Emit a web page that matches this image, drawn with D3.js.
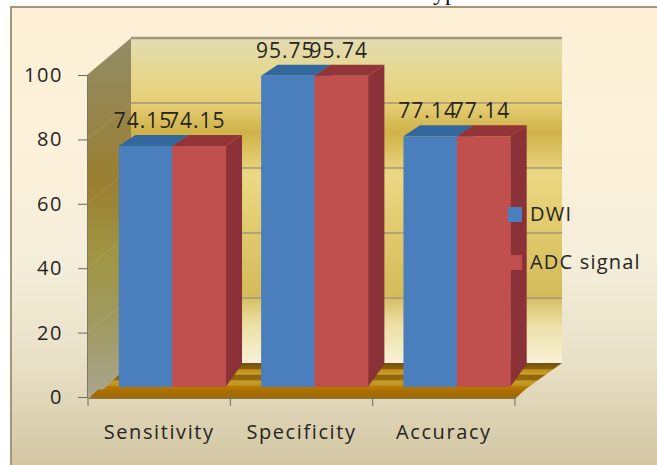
<!DOCTYPE html>
<html>
<head>
<meta charset="utf-8">
<style>
html,body{margin:0;padding:0;background:#fff;overflow:hidden}
svg{display:block}
text{font-family:"Open Sans",sans-serif;fill:#26251e}
</style>
<script src="https://cdn.jsdelivr.net/npm/d3@7/dist/d3.min.js"></script>
</head>
<body>
<script>
const categories = ["Sensitivity", "Specificity", "Accuracy"];
const dwi = [74.15, 95.75, 77.14];
const adc = [74.15, 95.74, 77.14];
const valueLabels = [["74.15", "74.15"], ["95.75", "95.74"], ["77.14", "77.14"]];
const yTicks = [0, 20, 40, 60, 80, 100];
const seriesNames = ["DWI", "ADC signal"];
const titleFragment = "yp";

const W = 657, H = 465;
const svg = d3.select("body").append("svg").attr("width", W).attr("height", H);
const defs = svg.append("defs");

function gradient(id, stops, y1, y2) {
  const g = defs.append("linearGradient").attr("id", id)
    .attr("gradientUnits", "userSpaceOnUse")
    .attr("x1", 0).attr("x2", 0).attr("y1", y1).attr("y2", y2);
  stops.forEach(([o, c]) => g.append("stop").attr("offset", o).attr("stop-color", c));
}
gradient("panelFill", [[0, "#fdf0d6"], [.3, "#fcf1da"], [.55, "#f5eedb"], [.78, "#e8e0c6"], [1, "#d2c6a2"]], 6, 465);
gradient("backFill", [[0, "#e2dcb4"], [.1, "#e6d890"], [.2, "#e6cf76"], [.29, "#cfb248"], [.42, "#ecd884"],
  [.6, "#e0c96c"], [.79, "#d4bc5c"], [.88, "#ecdfa4"], [1, "#f8f1d6"]], 38, 363);
gradient("sideFill", [[0, "#938c68"], [.4, "#9a7f30"], [.6, "#a09542"], [.8, "#a09a62"], [1, "#aaa58e"]], 38, 397);
gradient("floorFill", [[0, "#6f5212"], [.2, "#8a5f0c"], [.24, "#c08c14"], [.4, "#c9a02c"], [.44, "#8e640c"], [.6, "#96680c"],
  [.64, "#c69c28"], [.8, "#c09420"], [.84, "#b87a00"], [1, "#b07000"]], 363, 391);
gradient("lipFill", [[0, "#b07000"], [.6, "#a26a00"], [1, "#8f7430"]], 389, 399);

// chart area and its border
svg.append("rect").attr("x", 11).attr("y", 7).attr("width", W - 11).attr("height", H - 7)
  .attr("fill", "url(#panelFill)");
svg.append("path").attr("d", `M11,${H}V7H${W}`).attr("fill", "none").attr("stroke", "#a5967a").attr("stroke-width", 2);

// clipped heading above the chart area
svg.append("text").attr("x", 433).attr("y", 0).text(titleFragment)
  .style("font-family", '"Liberation Serif",serif').style("font-size", "24px").style("fill", "#111");

// the three projection planes: front axis, bars, back wall
const left = 87, right = 515, wallDx = 44;
const yFront = d3.scaleLinear().domain([0, 100]).range([397, 75]);
const yWall = d3.scaleLinear().domain([0, 100]).range([363, 38]);
const yBar = d3.scaleLinear().domain([0, 100]).range([387, 62]);
const xAxis = d3.scaleBand().domain(categories).range([left + 1, right]);
const xBar = d3.scaleBand().domain(categories).range([101, 528]).paddingInner(.25).paddingOuter(.125);
const barW = xBar.bandwidth() / 2;
const poly = pts => "M" + pts.map(p => p.join(",")).join("L") + "Z";

// back wall, side wall, floor
svg.append("rect").attr("x", left + wallDx).attr("y", yWall(100)).attr("width", right + 47 - left - wallDx)
  .attr("height", yWall(0) - yWall(100)).attr("fill", "url(#backFill)");
svg.append("path").attr("fill", "url(#sideFill)")
  .attr("d", poly([[left, yFront(100)], [left + wallDx, yWall(100)], [left + wallDx, yFront(0) - 5], [left, yFront(0)]]));
svg.append("path").attr("fill", "url(#floorFill)")
  .attr("d", poly([[103, 390], [left + wallDx, yWall(0)], [right + 47, yWall(0)], [right + 8, 391]]));

// gridlines on the walls
svg.append("g").selectAll("line").data(yTicks.filter(d => d > 0)).join("line")
  .attr("x1", left + wallDx).attr("x2", right + 47)
  .attr("y1", d => yWall(d)).attr("y2", d => yWall(d))
  .attr("stroke", "#a3967a").attr("stroke-width", d => d === 100 ? 2.5 : 1.5);
svg.append("g").selectAll("line").data(yTicks.filter(d => d > 0)).join("line")
  .attr("x1", left).attr("x2", left + wallDx)
  .attr("y1", d => yFront(d)).attr("y2", d => yWall(d))
  .attr("stroke", "#c8bda0").attr("stroke-opacity", .25);

// bars, each with a top face, right side and front face
const barDepth = 16.5, topRise = 11, footRise = 23;
const styles = [
  { values: dwi, front: "#4a7ebd", top: "#33689f", side: "#33689f" },
  { values: adc, front: "#c0504d", top: "#933438", side: "#8a3238" }
];
const bars = svg.append("g");
categories.forEach((c, i) => {
  styles.forEach((s, k) => {
    const x0 = xBar(c) + k * barW, x1 = x0 + barW, yt = yBar(s.values[i]), yb = yBar(0);
    bars.append("path").attr("fill", s.side)
      .attr("d", poly([[x1, yt], [x1 + barDepth, yt - topRise], [x1 + barDepth, yb - footRise], [x1, yb]]));
    bars.append("path").attr("fill", s.top)
      .attr("d", poly([[x0, yt], [x0 + barDepth, yt - topRise], [x1 + barDepth, yt - topRise], [x1, yt]]));
    bars.append("rect").attr("x", x0).attr("y", yt).attr("width", barW + .5).attr("height", yb - yt).attr("fill", s.front);
  });
});

// front lip of the floor
svg.append("path").attr("fill", "url(#lipFill)")
  .attr("d", poly([[left + 1, yFront(0) + 2], [left + 11, 389.5], [right + 10, 389.5], [right, yFront(0) + 2]]));

// value labels over the bars
const valueG = svg.append("g").style("font-size", "21px").style("letter-spacing", "1px").attr("text-anchor", "middle");
categories.forEach((c, i) => {
  styles.forEach((s, k) => {
    valueG.append("text")
      .attr("x", xBar(c) + (k + .5) * barW - 2.5)
      .attr("y", yBar(s.values[i]) - 18)
      .text(valueLabels[i][k]);
  });
});

// value axis
const yAxis = svg.append("g").attr("transform", `translate(${left},0)`)
  .call(d3.axisLeft(yFront).tickValues(yTicks).tickSize(9).tickPadding(15).tickFormat(d3.format("d")));
yAxis.select(".domain").attr("stroke", "#7c7868").attr("stroke-width", 1);
yAxis.selectAll(".tick line").attr("stroke", "#6c6a5e");
yAxis.selectAll("text").style("font-size", "20px").style("letter-spacing", "1.6px").style("fill", "#26251e");

// category axis
const xAxisG = svg.append("g").attr("transform", `translate(0,${yFront(0)})`)
  .call(d3.axisBottom(xAxis).tickSize(0).tickPadding(28));
xAxisG.select(".domain").remove();
xAxisG.selectAll("text").style("font-size", "20px").style("letter-spacing", "1.6px").style("fill", "#26251e");
svg.append("g").selectAll("line").data(d3.range(4)).join("line")
  .attr("x1", i => left + 1 + i * xAxis.step()).attr("x2", i => left + 1 + i * xAxis.step())
  .attr("y1", yFront(0) - 1).attr("y2", yFront(0) + 9)
  .attr("stroke", "#6c6a5e");

// legend
const legendY = d3.scalePoint().domain(seriesNames).range([214.5, 262.5]);
const legend = svg.append("g");
seriesNames.forEach((name, k) => {
  legend.append("rect").attr("x", 508).attr("y", legendY(name) - 7.5).attr("width", 14).attr("height", 15)
    .attr("fill", styles[k].front);
  legend.append("text").attr("x", 530).attr("y", legendY(name) + 6.5).text(name)
    .style("font-size", "20px").style("letter-spacing", "1.2px");
});
</script>
</body>
</html>
